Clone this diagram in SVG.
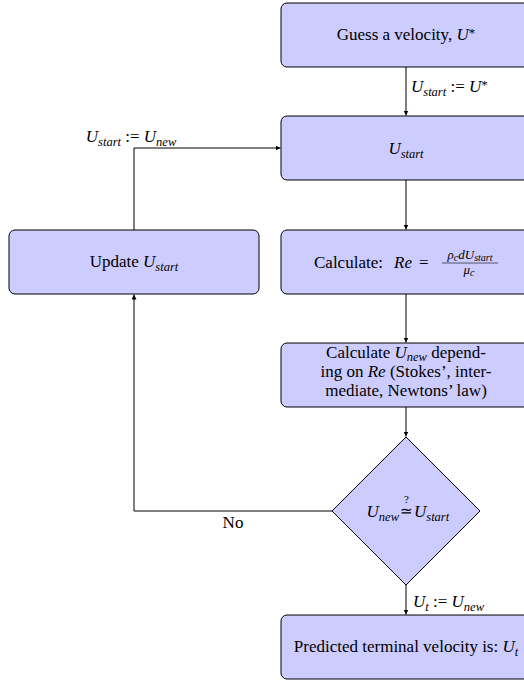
<svg xmlns="http://www.w3.org/2000/svg" width="524" height="681" viewBox="0 0 524 681">
<style>
.box{fill:#ccccff;stroke:#000;stroke-width:1}
.t{font-family:"Liberation Serif","Times New Roman",serif;font-size:17px;fill:#000}
.i{font-style:italic}
.sub{font-size:12.5px;font-style:italic}
.ss{font-size:10px;font-style:italic}
.fr{font-family:"Liberation Serif","Times New Roman",serif;font-size:13px;font-style:italic;fill:#000}
.c{fill:none;stroke:#000;stroke-width:1}
</style>
<defs>
<marker id="ah" markerUnits="userSpaceOnUse" markerWidth="6" markerHeight="6" refX="5" refY="2.5" orient="auto">
<path d="M0,0 L5,2.5 L0,5 z" fill="#000"/>
</marker>
</defs>
<rect width="524" height="681" fill="#fff"/>
<g id="connectors">
<path class="c" d="M406,67 V115.5" marker-end="url(#ah)"/>
<path class="c" d="M406,180 V229.5" marker-end="url(#ah)"/>
<path class="c" d="M406,294 V342.5" marker-end="url(#ah)"/>
<path class="c" d="M406,407 V436.5" marker-end="url(#ah)"/>
<path class="c" d="M406,585 V614.5" marker-end="url(#ah)"/>
<path class="c" d="M332,511 H134 V294.5" marker-end="url(#ah)"/>
<path class="c" d="M134,230 V148 H280.5" marker-end="url(#ah)"/>
<text class="t" x="411" y="92"><tspan class="i">U</tspan><tspan class="sub" dy="3.5">start</tspan><tspan dy="-3.5"> := </tspan><tspan class="i">U</tspan><tspan font-size="13" dy="-3">*</tspan></text>
<text class="t" x="131" y="142" text-anchor="middle"><tspan class="i">U</tspan><tspan class="sub" dy="3.5">start</tspan><tspan dy="-3.5"> := </tspan><tspan class="i">U</tspan><tspan class="sub" dy="3.5">new</tspan></text>
<text class="t" x="233" y="528" text-anchor="middle">No</text>
<text class="t" x="413" y="607"><tspan class="i">U</tspan><tspan class="sub" dy="3.5">t</tspan><tspan dy="-3.5"> := </tspan><tspan class="i">U</tspan><tspan class="sub" dy="3.5">new</tspan></text>
</g>
<g id="guess">
<rect class="box" x="281" y="3" width="250" height="64" rx="6"/>
<text class="t" x="406" y="40" text-anchor="middle">Guess a velocity, <tspan class="i">U</tspan><tspan font-size="13" dy="-3">*</tspan></text>
</g>
<g id="ustart">
<rect class="box" x="281" y="116" width="250" height="64" rx="6"/>
<text class="t" x="406" y="154" text-anchor="middle"><tspan class="i">U</tspan><tspan class="sub" dy="3.5">start</tspan></text>
</g>
<g id="update">
<rect class="box" x="9" y="230" width="250" height="64" rx="6"/>
<text class="t" x="134" y="267" text-anchor="middle">Update <tspan class="i">U</tspan><tspan class="sub" dy="3.5">start</tspan></text>
</g>
<g id="calcre">
<rect class="box" x="281" y="230" width="250" height="64" rx="6"/>
<text class="t" x="314" y="268">Calculate:</text>
<text class="t i" x="394" y="268">Re</text>
<text class="t" x="419" y="268">=</text>
<text class="fr" x="470" y="259" text-anchor="middle">ρ<tspan class="ss" dy="2">c</tspan><tspan dy="-2">dU</tspan><tspan class="ss" dy="2">start</tspan></text>
<line x1="442" y1="263" x2="498" y2="263" stroke="#000" stroke-width="0.6"/>
<text class="fr" x="469" y="273.5" text-anchor="middle">μ<tspan class="ss" dy="2">c</tspan></text>
</g>
<g id="calcunew">
<rect class="box" x="281" y="343" width="250" height="64" rx="6"/>
<text class="t" text-anchor="middle" x="406" y="357.5">Calculate <tspan class="i">U</tspan><tspan class="sub" dy="3">new</tspan><tspan dy="-3"> depend-</tspan><tspan x="406" dy="19">ing on <tspan class="i">Re</tspan> (Stokes’, inter-</tspan><tspan x="406" dy="19">mediate, Newtons’ law)</tspan></text>
</g>
<g id="decision">
<path class="box" d="M406,437 L480,511 L406,585 L332,511 Z"/>
<text class="t" x="399" y="517" text-anchor="end"><tspan class="i">U</tspan><tspan class="sub" dy="3.5">new</tspan></text>
<text class="t" x="406.5" y="516" text-anchor="middle" style="font-size:15px">≃<tspan x="406.5" dy="-13" style="font-size:11px">?</tspan></text>
<text class="t" x="414" y="517"><tspan class="i">U</tspan><tspan class="sub" dy="3.5">start</tspan></text>
</g>
<g id="result">
<rect class="box" x="281" y="615" width="250" height="64" rx="6"/>
<text class="t" x="406" y="652" text-anchor="middle">Predicted terminal velocity is: <tspan class="i">U</tspan><tspan class="sub" dy="3.5">t</tspan></text>
</g>
</svg>
